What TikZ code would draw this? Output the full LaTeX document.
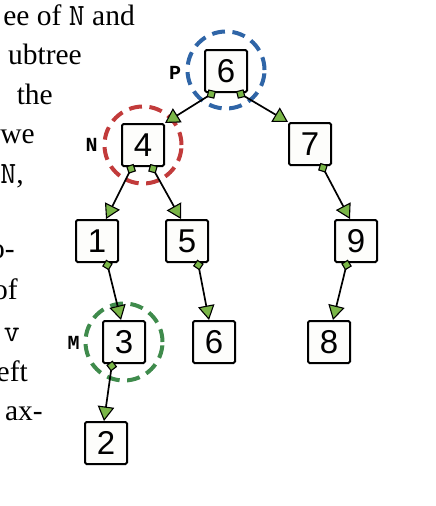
\documentclass[tikz,border=0pt]{standalone}
\usepackage{fontspec}
\setmainfont{Liberation Serif}
\newfontfamily\boxfont{Liberation Sans}
\newfontfamily\labfont{Liberation Mono}
\newfontfamily\codefont[Scale=1.05]{Latin Modern Mono}
\usetikzlibrary{arrows.meta,calc}
\definecolor{pblue}{HTML}{2F65A7}
\definecolor{nred}{HTML}{C23B3B}
\definecolor{mgreen}{HTML}{3F8B4C}
\definecolor{agreen}{HTML}{7AB648}
\definecolor{boxfill}{HTML}{FDFDFB}
\begin{document}
\begin{tikzpicture}[x=1pt,y=-1pt,
  treebox/.style={draw=black, line width=2pt, fill=boxfill, rounded corners=1.5pt, minimum size=42pt, inner sep=0pt, font=\boxfont\fontsize{33}{33}\selectfont},
  ring/.style={circle, draw=#1, line width=4pt, minimum size=77pt, inner sep=0pt, dash pattern=on 13pt off 7.5pt},
  tag/.style={font=\labfont\bfseries\fontsize{20}{20}\selectfont, inner sep=0pt},
  txt/.style={anchor=base east, inner sep=0pt, font=\fontsize{29.5}{29.5}\selectfont},
  edge/.style={line width=1.7pt, shorten <=-3.5pt,
    {Turned Square[length=11pt,width=11pt,fill=agreen,line width=1.1pt]}-{Triangle[length=14.5pt,width=16.5pt,fill=agreen,line width=1.1pt]}}
]
\fill[white] (0,0) rectangle (436,506);
\useasboundingbox (0,0) rectangle (436,506);

% text fragments at left
\node[txt] (t1) at (135,25) {ee of {\codefont N} and};
\node[txt] (t2) at (82,64.5) {ubtree};
\node[txt] (t3) at (53,104) {the};
\node[txt] (t4) at (35,143.5) {we};
\node[txt] (t5) at (24,183) {{\codefont N},};
\node[txt] (t7) at (15,258) {o-};
\node[txt] (t8) at (18,299) {of};
\node[txt] (t9) at (20,341) {{\codefont v}};
\node[txt] (t10) at (28,381) {eft};
\node[txt] (t11) at (43,420) {ax-};

% highlight rings
\node[ring=pblue] (pring) at (226,70) {};
\node[ring=nred] (nring) at (143,145) {};
\node[ring=mgreen] (mring) at (124,342) {};

% tree nodes
\node[treebox] (p6) at (226,71) {6};
\node[treebox] (n4) at (143,145) {4};
\node[treebox] (n7) at (310,144) {7};
\node[treebox] (n1) at (97,241) {1};
\node[treebox] (n5) at (187,241) {5};
\node[treebox] (n9) at (356,241) {9};
\node[treebox] (n3) at (124,342) {3};
\node[treebox] (n6b) at (214,342) {6};
\node[treebox] (n8) at (329,342) {8};
\node[treebox] (n2) at (106,443) {2};

% labels
\node[tag] (lp) at (175,72.5) {P};
\node[tag] (ln) at (91.5,145) {N};
\node[tag] (lm) at (73.5,342.5) {M};

% edges
\draw[edge] ($(p6.south)+(-13,0)$) -- (n4.north east);
\draw[edge] ($(p6.south)+(13,0)$) -- (n7.north west);
\draw[edge] ($(n4.south)+(-11,0)$) -- ($(n1.north)+(9,0)$);
\draw[edge] ($(n4.south)+(9,0)$) -- ($(n5.north)+(-6,0)$);
\draw[edge] ($(n1.south)+(10,0)$) -- ($(n3.north)+(-3,0)$);
\draw[edge] ($(n3.south)+(-12,0)$) -- ($(n2.north)+(-2,0)$);
\draw[edge] ($(n5.south)+(11,0)$) -- ($(n6b.north)+(-5,0)$);
\draw[edge] ($(n7.south)+(12,0)$) -- ($(n9.north)+(-6,0)$);
\draw[edge] ($(n9.south)+(-9,0)$) -- ($(n8.north)+(4,0)$);
\end{tikzpicture}
\end{document}
